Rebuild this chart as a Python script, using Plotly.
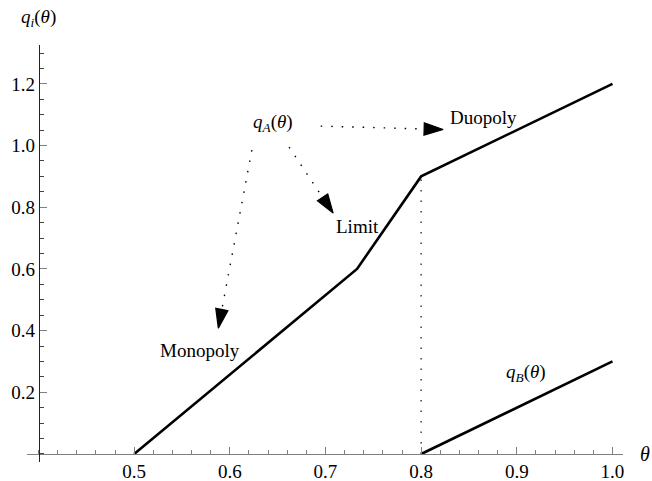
import plotly.graph_objects as go

# ---- data ----
theta_A = [0.5, 0.733, 0.8, 1.0]
q_A = [0.0, 0.6, 0.9, 1.2]
theta_B = [0.8, 1.0]
q_B = [0.0, 0.3]
jump_theta = [0.8, 0.8]
jump_q = [0.0, 0.9]

x_ticks = [0.5, 0.6, 0.7, 0.8, 0.9, 1.0]
x_ticklabels = ["0.5", "0.6", "0.7", "0.8", "0.9", "1.0"]
y_ticks = [0.2, 0.4, 0.6, 0.8, 1.0, 1.2]
y_ticklabels = ["0.2", "0.4", "0.6", "0.8", "1.0", "1.2"]

# annotation arrows (start -> tip) in data coordinates
arrow_duopoly = ([0.695, 0.823], [1.063, 1.052])
arrow_limit = ([0.662, 0.708], [0.995, 0.781])
arrow_monopoly = ([0.623, 0.588], [0.985, 0.408])

labels = [
    ("<i>q</i><sub><i>A</i></sub>(<i>θ</i>)", 0.645, 1.073),
    ("Duopoly", 0.865, 1.092),
    ("Limit", 0.733, 0.739),
    ("Monopoly", 0.5685, 0.337),
    ("<i>q</i><sub><i>B</i></sub>(<i>θ</i>)", 0.910, 0.263),
]

FONT = "Liberation Serif"
FS = 19

fig = go.Figure()

fig.add_trace(go.Scatter(x=jump_theta, y=jump_q, mode="lines",
                         line=dict(color="#333", width=1.4, dash="1.5px,9px"),
                         hoverinfo="skip", showlegend=False))
fig.add_trace(go.Scatter(x=theta_A, y=q_A, mode="lines",
                         line=dict(color="black", width=2.6), showlegend=False))
fig.add_trace(go.Scatter(x=theta_B, y=q_B, mode="lines",
                         line=dict(color="black", width=2.6), showlegend=False))

for ax_, ay_ in [arrow_duopoly, arrow_limit, arrow_monopoly]:
    fig.add_trace(go.Scatter(
        x=ax_, y=ay_, mode="lines",
        line=dict(color="black", width=1.4, dash="1.5px,9px"),
        showlegend=False, hoverinfo="skip"))
    fig.add_trace(go.Scatter(
        x=ax_, y=ay_, mode="markers",
        marker=dict(symbol="arrow", size=[0, 20], angleref="previous",
                    color="#000000", opacity=1.0,
                    line=dict(width=1.2, color="#000000")),
        showlegend=False, hoverinfo="skip"))

annotations = []
for txt, x, y in labels:
    annotations.append(dict(text=txt, x=x, y=y, xref="x", yref="y",
                            showarrow=False, font=dict(family=FONT, size=FS, color="black")))
annotations.append(dict(text="<i>θ</i>", x=1.037, y=0, xref="paper", yref="y",
                        xanchor="center", yanchor="middle",
                        showarrow=False, font=dict(family=FONT, size=20, color="black")))
annotations.append(dict(text="<i>q</i><sub><i>i</i></sub>(<i>θ</i>)", x=0.020, y=1.065,
                        xref="paper", yref="paper", xanchor="center", yanchor="middle",
                        showarrow=False,
                        font=dict(family=FONT, size=FS, color="black")))

fig.update_layout(
    width=652, height=481,
    margin=dict(l=27, r=29, t=45, b=19, autoexpand=False),
    paper_bgcolor="white", plot_bgcolor="white",
    annotations=annotations,
    xaxis=dict(range=[0.388, 1.011], anchor="free", position=0.0192, automargin=False,
               showgrid=False, zeroline=False, showline=True, linecolor="#808080", linewidth=1.2,
               tickvals=x_ticks, ticktext=x_ticklabels, ticks="inside", ticklen=7,
               tickcolor="#808080", tickwidth=1,
               tickfont=dict(family=FONT, size=FS, color="black"),
               minor=dict(tick0=0.4, dtick=0.02, ticks="inside", ticklen=4,
                          tickcolor="#808080", showgrid=False)),
    yaxis=dict(range=[-0.026, 1.326], anchor="free", position=0.0201, automargin=False,
               showgrid=False, zeroline=False, showline=True, linecolor="#222", linewidth=1.2,
               tickvals=y_ticks, ticktext=y_ticklabels, ticks="inside", ticklen=7,
               tickcolor="#808080", tickwidth=1,
               tickfont=dict(family=FONT, size=FS, color="black"),
               minor=dict(tick0=0, dtick=0.05, ticks="inside", ticklen=4,
                          tickcolor="#444", showgrid=False)),
)

fig.write_html("out.html")
